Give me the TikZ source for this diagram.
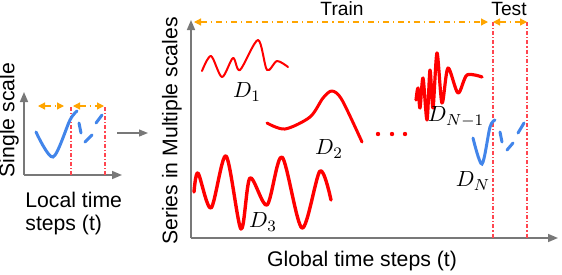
\documentclass[tikz,border=0pt]{standalone}
\usepackage{fontspec}
\setmainfont{Liberation Sans}
\usetikzlibrary{arrows.meta}
\definecolor{rosso}{RGB}{255,0,0}
\definecolor{rossochiaro}{RGB}{255,70,80}
\definecolor{blu}{RGB}{66,133,234}
\definecolor{arancio}{RGB}{255,165,0}
\definecolor{grigio}{RGB}{120,120,120}

\begin{document}
\begin{tikzpicture}[
  x=0.5pt, y=-0.5pt,
  font=\fontsize{10.6}{11.5}\selectfont,
  asse/.style={draw=grigio, line width=0.8pt, -{Triangle[length=5pt, width=4pt]}},
  intervallo/.style={draw=arancio, line width=0.6pt, dash dot,
                     {Triangle[length=3.5pt, width=3.5pt]}-{Triangle[length=3.5pt, width=3.5pt]}},
  confine/.style={draw=rossochiaro, line width=0.6pt,
                  dash pattern=on 2pt off 1pt on 0.6pt off 1pt},
  onda/.style={draw=rosso, line cap=round, line join=round},
  locale/.style={draw=blu, line width=1.5pt, line cap=round},
  serie/.style={inner sep=0pt, font=\fontsize{10.8}{12}\selectfont}
]
\useasboundingbox (0,0) rectangle (562,274);

% ---- pannello sinistro: scala singola ------------------------------
\coordinate (o1) at (24,175);
\coordinate (y1) at (24,92);
\coordinate (x1) at (122,175);
\draw[asse] (o1) -- (y1);
\draw[asse] (o1) -- (x1);
\draw[confine] (71,107) -- (71,175);
\draw[confine] (105,107) -- (105,175);
\draw[intervallo] (38,106) -- (64,106);
\draw[intervallo] (73,106) -- (104,106);
\draw[locale] plot[smooth] coordinates {(36,132) (53,157) (70,120) (77,111)};
\draw[locale] (79,123) -- (81,133);
\draw[locale] (85,142) -- (92,135);
\draw[locale] (96,123) -- (102,115);

\node[rotate=90, inner sep=0pt] (singola) at (9,120) {Single scale};
\node[align=left, anchor=west, inner sep=0pt] (passilocali) at (25,214)
  {Local time\\steps (t)};

% ---- freccia di passaggio ------------------------------------------
\coordinate (da) at (117,133);
\coordinate (a) at (148,133);
\draw[draw=grigio, line width=0.6pt, -{Triangle[length=4.5pt, width=3.5pt]}] (da) -- (a);

% ---- pannello destro: scale multiple -------------------------------
\coordinate (o2) at (191,238);
\coordinate (y2) at (191,20);
\coordinate (x2) at (558,238);
\draw[asse] (o2) -- (y2);
\draw[asse] (o2) -- (x2);
\draw[confine] (493,22) -- (493,238);
\draw[confine] (527,22) -- (527,238);
\draw[intervallo] (194,22) -- (488,22);
\draw[intervallo] (493,22) -- (527,22);

\node[font=\fontsize{9.6}{11}\selectfont, inner sep=0pt] (train) at (342,9) {Train};
\node[font=\fontsize{9.6}{11}\selectfont, inner sep=0pt] (test) at (509,9) {Test};
\node[rotate=90, inner sep=0pt] (scale) at (172,131) {Series in Multiple scales};
\node[inner sep=0pt] (passiglobali) at (362,261) {Global time steps (t)};

% ---- serie D_1 ... D_N ---------------------------------------------
\draw[onda, line width=1pt] plot[smooth] coordinates
  {(202,71) (211,56) (222,77) (233,58) (240,70) (258,40) (267,70) (277,61) (288,67)};
\draw[onda, line width=1.5pt] plot[smooth] coordinates
  {(267,123) (285,129) (310,117) (323,98) (332,91) (342,100) (362,142)};
\draw[onda, line width=1.7pt] plot[smooth] coordinates
  {(194,192) (198,173) (211,208) (226,156) (241,229) (250,178) (267,205)
   (282,157) (302,228) (320,171) (331,200)};
\draw[onda, line width=1.6pt] plot[smooth] coordinates
  {(416,100) (418,88) (420,108) (423,78) (427,120) (430,70) (433,108)
   (437,53) (442,103) (448,68) (458,93) (467,75) (482,77)};
\draw[locale] plot[smooth] coordinates {(473,138) (482,164) (490,127) (495,120)};
\draw[locale] (500,132) -- (502,142);
\draw[locale] (507,150) -- (513,143);
\draw[locale] (518,133) -- (524,123);
\foreach \px in {378,392,405}
  \fill[rosso] (\px,134) circle[radius=1.1pt];

\node[serie] (d1) at (247,92) {$D_1$};
\node[serie] (d2) at (329,149) {$D_2$};
\node[serie] (d3) at (263,222) {$D_3$};
\node[serie] (dn1) at (456,117) {$D_{N-1}$};
\node[serie] (dn) at (473,181) {$D_N$};

\end{tikzpicture}
\end{document}
